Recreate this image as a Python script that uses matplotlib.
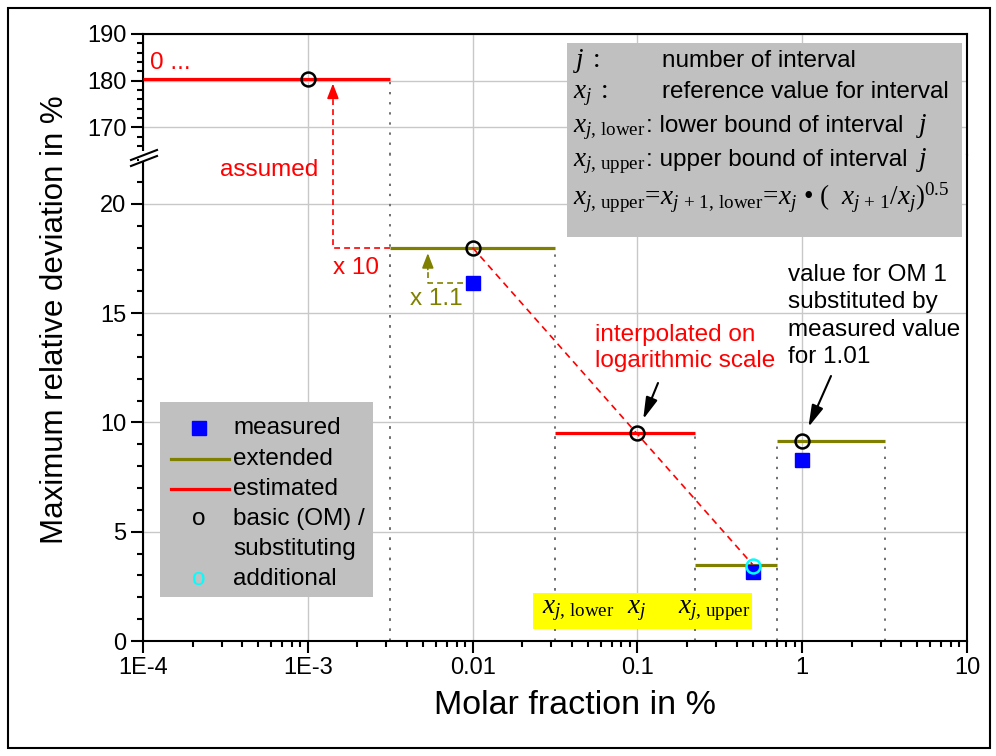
import numpy as np
import matplotlib.pyplot as plt
from matplotlib.patches import Rectangle
from matplotlib.lines import Line2D
from matplotlib.ticker import FixedLocator, FixedFormatter, NullFormatter, MultipleLocator

plt.rcParams['font.family'] = ['Liberation Sans', 'DejaVu Sans']
plt.rcParams['mathtext.fontset'] = 'custom'
plt.rcParams['mathtext.rm'] = 'Liberation Serif'
plt.rcParams['mathtext.it'] = 'Liberation Serif:italic'
plt.rcParams['mathtext.bf'] = 'Liberation Serif:bold'

# reference values of the intervals and their max. relative deviation
ref_x = [1e-3, 1e-2, 1e-1, 0.5, 1.0]
ref_next = 10.0
interval_y = [180.3, 18.0, 9.5, 3.5, 9.15]
interval_kind = ['estimated', 'extended', 'estimated', 'extended', 'extended']

measured_x = [0.01, 0.5, 1.0]
measured_y = [16.4, 3.15, 8.3]

basic_x = [1e-3, 1e-2, 1e-1, 1.0]
basic_y = [180.3, 18.0, 9.5, 9.15]

additional_x = [0.5]
additional_y = [3.45]

x_ticks = [1e-4, 1e-3, 1e-2, 1e-1, 1, 10]
x_ticklabels = ['1E-4', '1E-3', '0.01', '0.1', '1', '10']

RED = '#ff0000'
OLIVE = '#808000'
BLUE = '#0000ff'
CYAN = '#00ffff'
GRAY_BOX = '#c0c0c0'

W, H = 996, 756
Y_LO_TOP = 22.24
Y_HI_BOT = 164.1
FS = 17.5    # normal text
FM = 19.5    # formula symbols


def px(x, y):
    return (x / W, 1 - y / H)


fig = plt.figure(figsize=(W / 100, H / 100), dpi=100)
ax_hi = fig.add_axes([143 / W, 1 - 155 / H, 824 / W, 121 / H])
ax_lo = fig.add_axes([143 / W, 1 - 641 / H, 824 / W, 486 / H], sharex=ax_hi)

for ax in (ax_hi, ax_lo):
    ax.set_xscale('log')
    ax.set_xlim(1e-4, 10)
    ax.set_axisbelow(True)
    ax.grid(True, which='major', color='#c8c8c8', lw=1.0)
    for s in ax.spines.values():
        s.set_linewidth(1.5)
    ax.tick_params(which='major', direction='out', length=8.5, width=1.5, labelsize=17)
    ax.tick_params(which='minor', direction='out', length=4.5, width=1.5)

ax_hi.set_ylim(Y_HI_BOT, 190)
ax_lo.set_ylim(0, Y_LO_TOP)
ax_hi.spines['bottom'].set_visible(False)
ax_lo.spines['top'].set_visible(False)
ax_hi.tick_params(axis='x', which='both', bottom=False, labelbottom=False)
ax_hi.yaxis.set_major_locator(FixedLocator([170, 180, 190]))
ax_hi.yaxis.set_minor_locator(MultipleLocator(2))
ax_lo.yaxis.set_major_locator(FixedLocator([0, 5, 10, 15, 20]))
ax_lo.yaxis.set_minor_locator(MultipleLocator(1))
ax_lo.xaxis.set_major_locator(FixedLocator(x_ticks))
ax_lo.xaxis.set_major_formatter(FixedFormatter(x_ticklabels))
ax_lo.xaxis.set_minor_formatter(NullFormatter())
ax_lo.tick_params(axis='x', pad=3)

# interval bounds: x_j,upper = x_j+1,lower = x_j * (x_j+1 / x_j)^0.5
refs = np.array(ref_x + [ref_next])
mids = np.sqrt(refs[:-1] * refs[1:])
lower = np.concatenate([[1e-4], mids[:-1]])
upper = mids

dot_style = dict(color='#707070', lw=1.4, linestyle=(0, (1.2, 4.0)), zorder=2)
for lo, hi, y, kind in zip(lower, upper, interval_y, interval_kind):
    color = RED if kind == 'estimated' else OLIVE
    edges = [hi] if lo <= 1e-4 else [lo, hi]
    if y > Y_LO_TOP:
        ax_hi.hlines(y, lo, hi, color=color, lw=2.3, zorder=3)
        for e in edges:
            ax_hi.vlines(e, Y_HI_BOT, y, **dot_style)
            ax_lo.vlines(e, 0, Y_LO_TOP, **dot_style)
    else:
        ax_lo.hlines(y, lo, hi, color=color, lw=2.3, zorder=3)
        for e in edges:
            ax_lo.vlines(e, 0, y, **dot_style)

# interpolation on logarithmic scale between 0.01 and 0.5
ax_lo.plot([ref_x[1], ref_x[3]], [interval_y[1], interval_y[3]], color=RED,
           lw=1.2, linestyle=(0, (4, 3)), zorder=4)

# assumed: x 10 from the 0.01 interval up to the first interval
x_a = 0.00142
dash = (0, (3.5, 2.5))
ax_lo.plot([upper[0], x_a, x_a], [interval_y[1], interval_y[1], Y_LO_TOP],
           color=RED, lw=1.2, linestyle=dash, clip_on=False, zorder=4)
ax_hi.plot([x_a, x_a], [Y_HI_BOT, 177], color=RED, lw=1.2, linestyle=dash, zorder=4)
ax_hi.annotate('', xy=(x_a, 179.4), xytext=(x_a, 176.5),
               arrowprops=dict(arrowstyle='-|>,head_length=0.9,head_width=0.35',
                               color=RED, lw=1.2, shrinkA=0, shrinkB=0,
                               mutation_scale=10), zorder=5)

# extended: x 1.1 from measured value
x_o = 0.00535
ax_lo.plot([measured_x[0], x_o, x_o], [measured_y[0], measured_y[0], 17.1],
           color=OLIVE, lw=1.2, linestyle=dash, zorder=4)
ax_lo.annotate('', xy=(x_o, 17.75), xytext=(x_o, 17.0),
               arrowprops=dict(arrowstyle='-|>,head_length=0.9,head_width=0.35',
                               color=OLIVE, lw=1.2, shrinkA=0, shrinkB=0,
                               mutation_scale=10), zorder=5)

# markers
ax_lo.plot(measured_x, measured_y, 's', color=BLUE, ms=9.5, mec=BLUE, zorder=6)
for bx, by in zip(basic_x, basic_y):
    ax = ax_hi if by > Y_LO_TOP else ax_lo
    ax.plot(bx, by, 'o', mfc='none', mec='black', ms=10, mew=1.8, zorder=7)
ax_lo.plot(additional_x, additional_y, 'o', mfc='none', mec=CYAN, ms=10, mew=1.8, zorder=7)

# axis break marks
fig.add_artist(Rectangle(px(139, 161), 8 / W, 10 / H, transform=fig.transFigure,
                         facecolor='white', edgecolor='none', zorder=5))
for dy in (0, 6):
    x0, y0 = px(131, 166 - dy)
    x1, y1 = px(157, 156 - dy)
    fig.add_artist(Line2D([x0, x1], [y0, y1], transform=fig.transFigure,
                          color='black', lw=1.5, zorder=6))

# axis titles
fig.text(*px(55, 320), 'Maximum relative deviation in %', rotation=90,
         ha='center', va='center', fontsize=22.5)
fig.text(*px(575, 705), 'Molar fraction in %', ha='center', va='center', fontsize=24.5)

# annotation texts
fig.text(*px(150, 63), '0 ...', color=RED, fontsize=FS, va='center')
fig.text(*px(220, 170), 'assumed', color=RED, fontsize=FS, va='center')
fig.text(*px(333, 268), 'x 10', color=RED, fontsize=FS, va='center')
fig.text(*px(410, 299), 'x 1.1', color=OLIVE, fontsize=FS, va='center')
fig.text(*px(595, 348), 'interpolated on\nlogarithmic scale', color=RED, fontsize=FS,
         va='center', linespacing=1.28)
fig.text(*px(788, 316), 'value for OM 1\nsubstituted by\nmeasured value\nfor 1.01',
         color='black', fontsize=FS, va='center', linespacing=1.33)

arrow_kw = dict(arrowstyle='-|>,head_length=1.1,head_width=0.3', color='black',
                lw=1.5, shrinkA=0, shrinkB=11, mutation_scale=12)
ax_lo.annotate('', xy=(basic_x[2], basic_y[2]), xycoords='data',
               xytext=px(658, 383), textcoords='figure fraction', arrowprops=arrow_kw)
ax_lo.annotate('', xy=(basic_x[3], basic_y[3]), xycoords='data',
               xytext=px(831, 376), textcoords='figure fraction', arrowprops=arrow_kw)

# legend
fig.add_artist(Rectangle(px(160, 597), 213 / W, 195 / H, transform=fig.transFigure,
                         facecolor=GRAY_BOX, edgecolor='none', zorder=3))
fig.add_artist(Line2D([px(199, 0)[0]], [px(0, 428)[1]], transform=fig.transFigure,
                      marker='s', ms=9.5, color=BLUE, ls='none', zorder=4))
for yy, c in ((459, OLIVE), (489, RED)):
    fig.add_artist(Line2D([px(171, 0)[0], px(229, 0)[0]], [px(0, yy)[1]] * 2,
                          transform=fig.transFigure, color=c, lw=2.3, zorder=4))
fig.text(*px(199, 519), 'o', color='black', fontsize=FS, ha='center', va='center', zorder=4)
fig.text(*px(199, 579), 'o', color=CYAN, fontsize=FS, ha='center', va='center', zorder=4)
for yy, s in ((428, 'measured'), (459, 'extended'), (489, 'estimated'),
              (519, 'basic (OM) /'), (549, 'substituting'), (579, 'additional')):
    fig.text(*px(233, yy), s, fontsize=FS, va='center', zorder=4)

# explanation box
fig.add_artist(Rectangle(px(567, 237), 395 / W, 194 / H, transform=fig.transFigure,
                         facecolor=GRAY_BOX, edgecolor='none', zorder=3))
box_txt = dict(va='baseline', zorder=4)
fig.text(*px(573, 67), r'$j\;:$', fontsize=FM, **box_txt)
fig.text(*px(662, 67), 'number of interval', fontsize=FS, **box_txt)
fig.text(*px(573, 98), r'$x_j\;:$', fontsize=FM, **box_txt)
fig.text(*px(662, 98), 'reference value for interval', fontsize=FS, **box_txt)
fig.text(*px(573, 132), r'$x_{j,\,\mathrm{lower}}$', fontsize=FM, **box_txt)
fig.text(*px(646, 132), ': lower bound of interval', fontsize=FS, **box_txt)
fig.text(*px(916, 132), r'$j$', fontsize=FM, **box_txt)
fig.text(*px(573, 166), r'$x_{j,\,\mathrm{upper}}$', fontsize=FM, **box_txt)
fig.text(*px(646, 166), ': upper bound of interval', fontsize=FS, **box_txt)
fig.text(*px(916, 166), r'$j$', fontsize=FM, **box_txt)
fig.text(*px(573, 205),
         r'$x_{j,\,\mathrm{upper}}\!=\!x_{j\,+\,1,\,\mathrm{lower}}\!=\!x_j\ \mathrm{•}\ (\ \ x_{j\,+\,1}/x_j)^{0.5}$',
         fontsize=FM, **box_txt)

# interval bound labels
fig.add_artist(Rectangle(px(533, 629), 219 / W, 36 / H, transform=fig.transFigure,
                         facecolor='#ffff00', edgecolor='none', zorder=3))
fig.text(*px(542, 613), r'$x_{j,\,\mathrm{lower}}$', fontsize=FM, **box_txt)
fig.text(*px(627, 613), r'$x_j$', fontsize=FM, **box_txt)
fig.text(*px(678, 613), r'$x_{j,\,\mathrm{upper}}$', fontsize=FM, **box_txt)

# outer frame
fig.add_artist(Rectangle(px(8, 748), 982 / W, 740 / H, transform=fig.transFigure,
                         facecolor='none', edgecolor='black', lw=1.5, zorder=10))

fig.savefig('out.png', dpi=100)
